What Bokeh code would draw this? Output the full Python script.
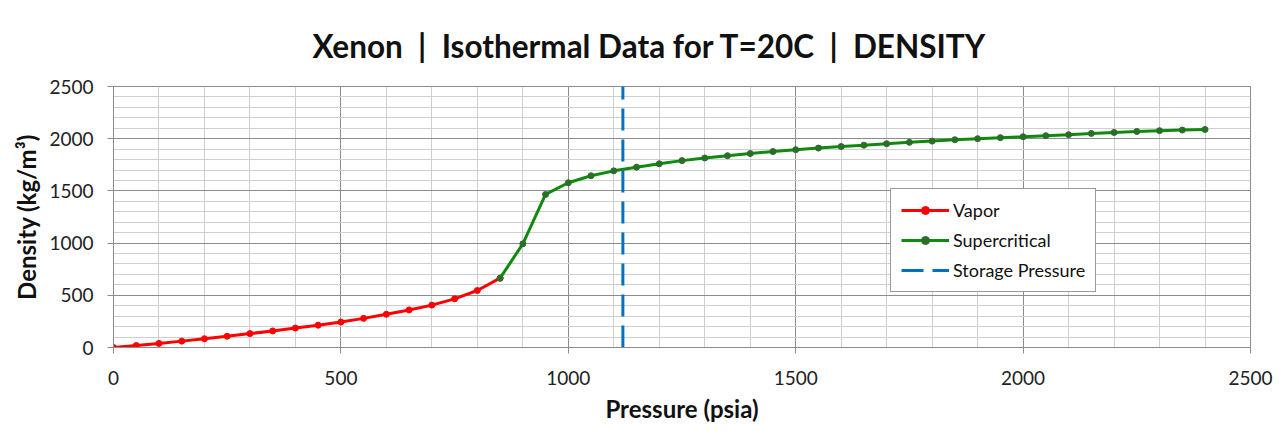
from bokeh.plotting import figure
from bokeh.models import SingleIntervalTicker, Legend, LegendItem, Range1d
from bokeh.embed import file_html
from bokeh.resources import INLINE

vapor_p = [0, 50, 100, 150, 200, 250, 300, 350, 400, 450, 500, 550, 600, 650, 700, 750, 800, 850]
vapor_d = [0, 19, 39, 61, 84, 108, 133, 159, 186, 214, 244, 279, 318, 360, 406, 466, 546, 664]

super_p = [850, 900, 950, 1000, 1050, 1100, 1150, 1200, 1250, 1300, 1350, 1400, 1450, 1500,
           1550, 1600, 1650, 1700, 1750, 1800, 1850, 1900, 1950, 2000, 2050, 2100, 2150,
           2200, 2250, 2300, 2350, 2400]
super_d = [664, 993, 1466, 1578, 1645, 1692, 1727, 1760, 1790, 1815, 1837, 1858, 1877, 1895,
           1910, 1925, 1938, 1952, 1965, 1977, 1990, 2000, 2010, 2019, 2029, 2039, 2050,
           2060, 2069, 2077, 2083, 2088]

storage_p = [1120, 1120]
storage_d = [0, 2500]

FONT = "Lato"
SEP = "\u00a0\u00a0|\u00a0\u00a0"

p = figure(width=1275, height=425, output_backend="svg", toolbar_location=None,
           x_range=Range1d(0, 2500), y_range=Range1d(0, 2500),
           min_border_left=113, min_border_right=25, min_border_top=86, min_border_bottom=78)

p.title.text = "Xenon" + SEP + "Isothermal Data for T=20C" + SEP + "DENSITY"
p.title.align = "left"
p.title.offset = 199
p.title.vertical_align = "top"
p.title.text_font = FONT
p.title.text_font_size = "31.5px"
p.title.text_font_style = "bold"
p.title.text_color = "#111111"
p.title.standoff = 40

xt = SingleIntervalTicker(interval=500, num_minor_ticks=5)
yt = SingleIntervalTicker(interval=500, num_minor_ticks=5)
p.xaxis.ticker = xt
p.yaxis.ticker = yt
p.xgrid.ticker = xt
p.ygrid.ticker = yt

for g in (p.xgrid, p.ygrid):
    g.grid_line_color = "#8c8c8c"
    g.grid_line_width = 1
    g.minor_grid_line_color = "#cfcfcf"
    g.minor_grid_line_width = 1

p.outline_line_color = "#8c8c8c"
p.background_fill_color = "white"
p.border_fill_color = "white"

for ax in (p.xaxis, p.yaxis):
    ax.axis_line_color = "#8c8c8c"
    ax.major_tick_line_color = "#8c8c8c"
    ax.minor_tick_line_color = None
    ax.major_tick_in = 0
    ax.major_tick_out = 6
    ax.major_label_text_font = FONT
    ax.major_label_text_font_size = "19px"
    ax.major_label_text_color = "#222222"
    ax.axis_label_text_font = FONT
    ax.axis_label_text_font_size = "24px"
    ax.axis_label_text_font_style = "bold"
    ax.axis_label_text_color = "#111111"

p.xaxis.axis_label = "Pressure (psia)"
p.yaxis.axis_label = "Density (kg/m\u00b3)"
p.xaxis.major_label_standoff = 17
p.yaxis.major_label_standoff = 14
p.xaxis.axis_label_standoff = 6
p.yaxis.axis_label_standoff = 5

r_v = p.line(vapor_p, vapor_d, line_color="#ff0000", line_width=3)
m_v = p.scatter(vapor_p, vapor_d, size=6, fill_color="#ff0000", line_color="#ff0000")
r_s = p.line(super_p, super_d, line_color="#0f8a0f", line_width=3)
m_s = p.scatter(super_p, super_d, size=6, fill_color="#2a6e2a", line_color="#2a6e2a")
r_st = p.line(storage_p, storage_d, line_color="#0070c0", line_width=3, line_dash="22 9")

legend = Legend(items=[
    LegendItem(label="Vapor", renderers=[r_v, m_v]),
    LegendItem(label="Supercritical", renderers=[r_s, m_s]),
    LegendItem(label="Storage Pressure", renderers=[r_st]),
], location=(777, 55))
legend.label_text_font = FONT
legend.label_text_font_size = "18px"
legend.label_text_color = "#111111"
legend.glyph_width = 48
legend.glyph_height = 20
legend.label_height = 20
legend.label_standoff = 4
legend.spacing = 8
legend.padding = 10
legend.margin = 0
legend.border_line_color = "#333333"
legend.border_line_width = 1
legend.background_fill_alpha = 1
p.add_layout(legend, "center")

open("out.html", "w").write(file_html(p, INLINE))
